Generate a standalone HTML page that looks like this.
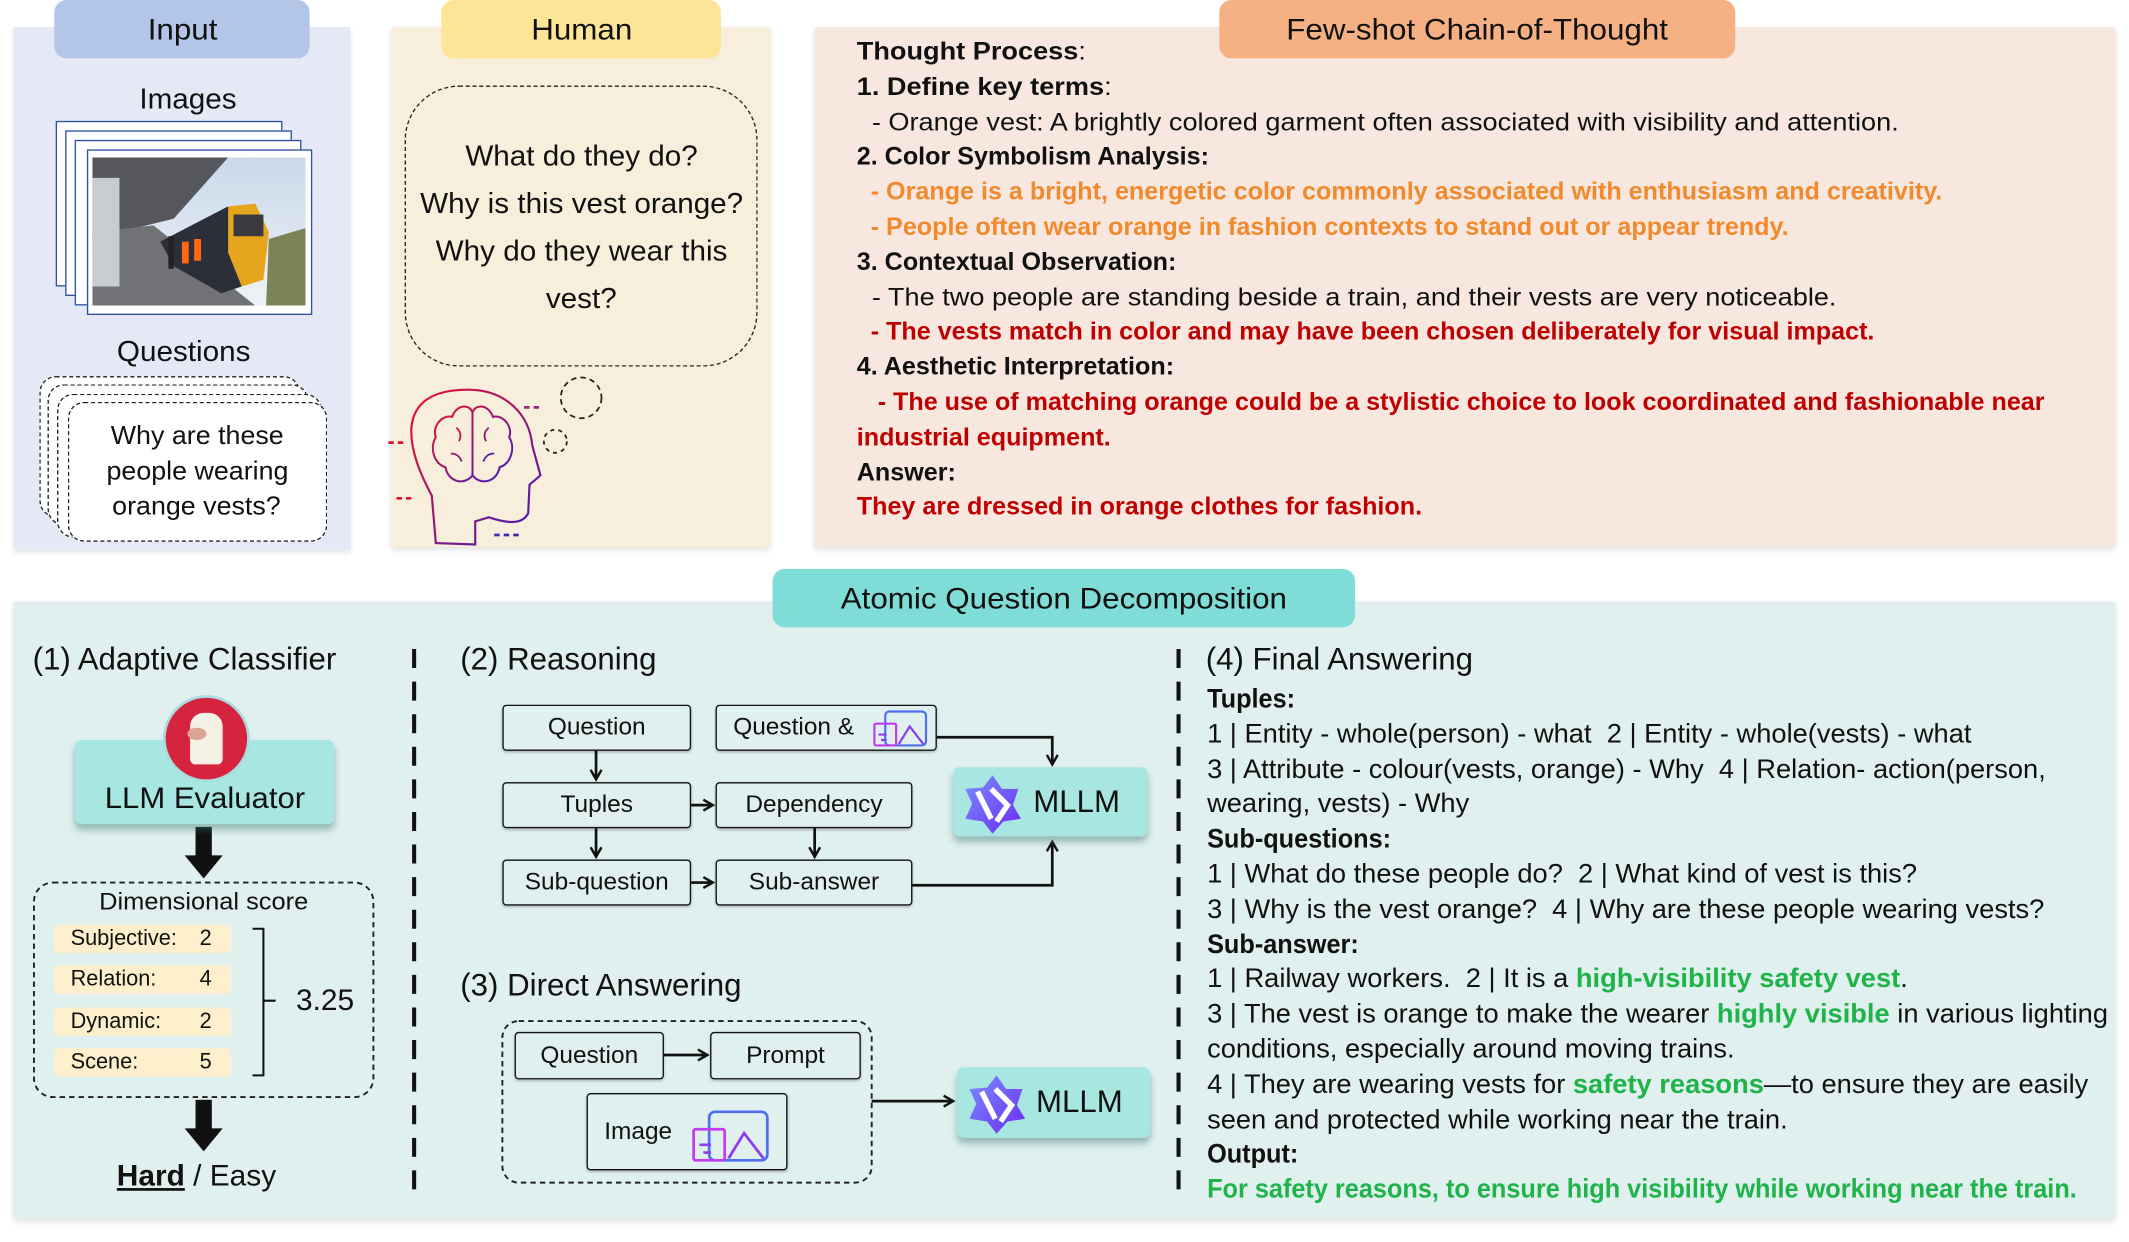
<!DOCTYPE html>
<html><head><meta charset="utf-8">
<style>
html,body{margin:0;padding:0;background:#fff;width:2129px;height:1242px;overflow:hidden}
#w{position:absolute;left:0;top:0;width:1568px;height:915px;transform:scale(1.35778);transform-origin:0 0;font-family:"Liberation Sans",sans-serif;color:#111}
.a{position:absolute}
.t{position:absolute;white-space:nowrap;transform-origin:left center}
.c{position:absolute;text-align:center;white-space:nowrap}
.c span{display:inline-block;transform:scaleX(1.04)}
.hd{position:absolute;border-radius:9px;text-align:center;font-size:22px;line-height:43px}
.hd span{display:inline-block;transform:scaleX(1.05)}
.bx{position:absolute;border:1.6px solid #111;border-radius:3px;box-sizing:border-box;text-align:center;font-size:18px;box-shadow:0 1px 2px rgba(0,0,0,.25)}
.bx span{display:inline-block;transform:scaleX(1.0)}
.lines div{height:25.8px;line-height:25.8px;white-space:nowrap;transform-origin:left center}
.cot div{transform:scaleX(1.08)}
.cot div.b,.cot div.or,.cot div.rd{transform:scaleX(1.0)}
.fa div{transform:scaleX(1.03)}
.fa div.b,.fa div.gr{transform:scaleX(.955)}
.b{font-weight:bold}
.or{color:#f08a2c;font-weight:bold}
.rd{color:#c00000;font-weight:bold}
.gr{color:#1fb34a;font-weight:bold}
</style></head><body>
<div id="w">
<div class="a" style="left:10px;top:20px;width:248px;height:385px;background:#e5e9f6;box-shadow:0 2px 4px rgba(0,0,0,.12)"></div>
<div class="a" style="left:288px;top:20px;width:280px;height:383px;background:#f7efdc;box-shadow:0 2px 4px rgba(0,0,0,.12)"></div>
<div class="a" style="left:600px;top:20px;width:958px;height:383px;background:#f7e7df;box-shadow:0 2px 4px rgba(0,0,0,.12)"></div>
<div class="a" style="left:10px;top:443px;width:1548px;height:455px;background:#dff0ee;box-shadow:0 2px 4px rgba(0,0,0,.12)"></div>

<div class="hd" style="left:40px;top:0;width:188px;height:43px;background:#b4c6e7"><span>Input</span></div>
<div class="hd" style="left:325px;top:0;width:206px;height:43px;background:#fde598"><span>Human</span></div>
<div class="hd" style="left:898px;top:0;width:380px;height:43px;background:#f5b183"><span>Few-shot Chain-of-Thought</span></div>
<div class="hd" style="left:569px;top:419px;width:429px;height:43px;background:#7fdcd6"><span>Atomic Question Decomposition</span></div>

<!-- Input -->
<div class="c" style="left:60px;width:156px;top:62px;font-size:21px"><span>Images</span></div>
<div class="a" style="left:41px;top:89px;width:165px;height:120px;border:1.5px solid #2f52a0;background:#fff"></div>
<div class="a" style="left:48px;top:96px;width:165px;height:120px;border:1.5px solid #2f52a0;background:#fff"></div>
<div class="a" style="left:55px;top:103px;width:165px;height:120px;border:1.5px solid #2f52a0;background:#fff"></div>
<div class="a" style="left:64px;top:110px;width:164px;height:120px;border:1.5px solid #2f52a0;background:#fff"></div>
<svg class="a" style="left:68px;top:116px" width="157" height="109" viewBox="0 0 157 109">
<defs><linearGradient id="sky" x1="0" y1="0" x2="0" y2="1"><stop offset="0" stop-color="#c9d9ea"/><stop offset="1" stop-color="#eef2f6"/></linearGradient></defs>
<rect width="157" height="109" fill="url(#sky)"/>
<polygon points="0,0 100,0 60,45 0,60" fill="#55575c"/>
<polygon points="0,55 45,50 120,109 0,109" fill="#707276"/>
<rect x="0" y="15" width="20" height="80" fill="#c8ccd0"/>
<polygon points="50,62 100,36 118,70 110,95 95,100 60,80" fill="#2c2e3a"/>
<polygon points="100,36 120,34 130,55 126,90 110,95 100,70" fill="#e5a51c"/>
<rect x="104" y="42" width="22" height="16" fill="#3a3a40"/>
<polygon points="130,60 157,52 157,109 128,109" fill="#7a8456"/>
<rect x="75" y="60" width="5" height="16" fill="#ff6a10"/><rect x="66" y="62" width="5" height="16" fill="#ff6a10"/>
<rect x="56" y="58" width="4" height="24" fill="#222"/>
</svg>
<div class="c" style="left:60px;width:150px;top:248px;font-size:21px"><span>Questions</span></div>
<div class="a" style="left:29px;top:277px;width:190px;height:102px;border:1.5px dashed #222;border-radius:12px;background:#fff"></div>
<div class="a" style="left:35px;top:283px;width:190px;height:102px;border:1.5px dashed #222;border-radius:12px;background:#fff"></div>
<div class="a" style="left:42px;top:290px;width:193px;height:104px;border:1.5px dashed #222;border-radius:12px;background:#fff"></div>
<div class="a" style="left:50px;top:296px;width:189px;height:101px;border:1.5px dashed #222;border-radius:12px;background:#fff"></div>
<div class="c lines" style="left:50px;width:190px;top:309px;font-size:19px"><div><span>Why are these</span></div><div><span>people wearing</span></div><div><span>orange vests?</span></div></div>

<!-- Human -->
<div class="a" style="left:298px;top:63px;width:258px;height:205px;border:1.5px dashed #222;border-radius:40px"></div>
<div class="c" style="left:290px;width:276px;top:98px;font-size:21px;line-height:35px"><div><span>What do they do?</span></div><div><span>Why is this vest orange?</span></div><div><span>Why do they wear this</span></div><div><span>vest?</span></div></div>
<svg class="a" style="left:280px;top:270px" width="180" height="140" viewBox="280 270 180 140">
<defs><linearGradient id="hg" x1="0" y1="0" x2="1" y2="1"><stop offset="0" stop-color="#f0102a"/><stop offset="1" stop-color="#3a1fc0"/></linearGradient></defs>
<circle cx="428" cy="293" r="15" fill="none" stroke="#222" stroke-width="1.3" stroke-dasharray="4 3"/>
<circle cx="409" cy="325" r="8.5" fill="none" stroke="#222" stroke-width="1.3" stroke-dasharray="3 3"/>
<path d="M321 400 L318 365 C310 350 302 332 303 315 C305 292 325 287 345 287 C372 287 390 305 392 328 L398 350 C395 353 392 355 390 357 L389 378 C385 386 375 386 360 381 L350 384 L350 401 Z" fill="none" stroke="url(#hg)" stroke-width="1.6"/>
<path d="M333 307 C325 305 318 315 321 322 C316 330 320 342 328 344 C330 355 342 358 348 350 C354 358 366 355 368 344 C376 342 380 330 375 322 C378 315 371 305 363 307 C360 298 350 297 348 304 C346 297 336 298 333 307 Z M348 304 L348 350" fill="none" stroke="url(#hg)" stroke-width="1.5"/>
<path d="M336 315 q5 4 2 10 M360 315 q-5 4 -2 10 M332 334 q6 0 8 6 M364 334 q-6 0 -8 6" fill="none" stroke="url(#hg)" stroke-width="1.3"/>
<path d="M286 326 h14 M292 367 h14" stroke="#e0102a" stroke-width="2" stroke-dasharray="4 3"/>
<path d="M386 300 h12" stroke="#a0207a" stroke-width="2" stroke-dasharray="4 3"/>
<path d="M364 394 h20" stroke="#3a2cb0" stroke-width="2" stroke-dasharray="4 3"/>
</svg>

<!-- CoT -->
<div class="t lines cot" style="left:631px;top:25px;font-size:18.5px">
<div><span class="b">Thought Process</span>:</div>
<div><span class="b">1. Define key terms</span>:</div>
<div>&nbsp; - Orange vest: A brightly colored garment often associated with visibility and attention.</div>
<div class="b">2. Color Symbolism Analysis:</div>
<div class="or">&nbsp; - Orange is a bright, energetic color commonly associated with enthusiasm and creativity.</div>
<div class="or">&nbsp; - People often wear orange in fashion contexts to stand out or appear trendy.</div>
<div class="b">3. Contextual Observation:</div>
<div>&nbsp; - The two people are standing beside a train, and their vests are very noticeable.</div>
<div class="rd">&nbsp; - The vests match in color and may have been chosen deliberately for visual impact.</div>
<div class="b">4. Aesthetic Interpretation:</div>
<div class="rd">&nbsp;&nbsp; - The use of matching orange could be a stylistic choice to look coordinated and fashionable near</div>
<div class="rd">industrial equipment.</div>
<div class="b">Answer:</div>
<div class="rd">They are dressed in orange clothes for fashion.</div>
</div>

<svg class="a" style="left:0;top:0" width="1568" height="915">
<defs><marker id="ar" markerWidth="10" markerHeight="10" refX="8" refY="5" orient="auto" markerUnits="userSpaceOnUse"><path d="M1 1 L8 5 L1 9" fill="none" stroke="#111" stroke-width="1.8"/></marker>
<linearGradient id="mg" x1="0" y1="0" x2="1" y2="1"><stop offset="0" stop-color="#7b8cff"/><stop offset="1" stop-color="#6a2cf0"/></linearGradient></defs>
<line x1="305" y1="478" x2="305" y2="880" stroke="#111" stroke-width="3" stroke-dasharray="14 10"/>
<line x1="868" y1="478" x2="868" y2="880" stroke="#111" stroke-width="3" stroke-dasharray="14 10"/>
<rect x="144" y="609" width="12" height="22" fill="#111"/><polygon points="136,630 164,630 150,647" fill="#111"/>
<rect x="144" y="810" width="12" height="22" fill="#111"/><polygon points="136,831 164,831 150,848" fill="#111"/>
<rect x="25" y="650" width="250" height="158" rx="14" fill="none" stroke="#222" stroke-width="1.4" stroke-dasharray="4 3"/>
<path d="M186 684 h8 v108 h-8 M194 737 h9" fill="none" stroke="#111" stroke-width="1.5"/>
<g stroke="#111" stroke-width="2" fill="none">
<path d="M439 553 V574" marker-end="url(#ar)"/>
<path d="M439 610 V631" marker-end="url(#ar)"/>
<path d="M600 610 V631" marker-end="url(#ar)"/>
<path d="M509 593 H525" marker-end="url(#ar)"/>
<path d="M509 650 H525" marker-end="url(#ar)"/>
<path d="M690 543 H775 V563" marker-end="url(#ar)"/>
<path d="M672 652 H775 V620" marker-end="url(#ar)"/>
<path d="M489 777 H521" marker-end="url(#ar)"/>
<path d="M642 811 H702" marker-end="url(#ar)"/>
</g>
<rect x="370" y="752" width="272" height="119" rx="12" fill="none" stroke="#222" stroke-width="1.4" stroke-dasharray="4 3"/>
</svg>

<!-- LLM evaluator -->
<div class="a" style="left:55px;top:545px;width:191px;height:62px;background:#a8e6e1;border-radius:5px;box-shadow:0 4px 5px rgba(60,120,115,.45)"></div>
<div class="a" style="left:122px;top:514px;width:60px;height:60px;border-radius:50%;background:#d6243f;box-shadow:0 0 0 2px #a9dbe0"></div>
<div class="a" style="left:140px;top:525px;width:24px;height:38px;border-radius:10px 10px 4px 4px;background:#f5f0e6"></div>
<div class="a" style="left:138px;top:536px;width:14px;height:9px;border-radius:50%;background:#d9a594"></div>
<div class="c" style="left:55px;width:191px;top:575px;font-size:22px"><span>LLM Evaluator</span></div>
<div class="c" style="left:25px;width:250px;top:654px;font-size:18px"><span>Dimensional score</span></div>
<div class="a" style="left:40px;top:681px;width:130px;height:21px;background:#fdefcc;border-radius:3px"></div>
<div class="a" style="left:40px;top:711px;width:130px;height:21px;background:#fdefcc;border-radius:3px"></div>
<div class="a" style="left:40px;top:742px;width:130px;height:21px;background:#fdefcc;border-radius:3px"></div>
<div class="a" style="left:40px;top:772px;width:130px;height:21px;background:#fdefcc;border-radius:3px"></div>
<div class="t" style="left:52px;top:681px;font-size:16px;line-height:21px">Subjective:</div><div class="t" style="left:147px;top:681px;font-size:16px;line-height:21px">2</div>
<div class="t" style="left:52px;top:711px;font-size:16px;line-height:21px">Relation:</div><div class="t" style="left:147px;top:711px;font-size:16px;line-height:21px">4</div>
<div class="t" style="left:52px;top:742px;font-size:16px;line-height:21px">Dynamic:</div><div class="t" style="left:147px;top:742px;font-size:16px;line-height:21px">2</div>
<div class="t" style="left:52px;top:772px;font-size:16px;line-height:21px">Scene:</div><div class="t" style="left:147px;top:772px;font-size:16px;line-height:21px">5</div>
<div class="t" style="left:218px;top:724px;font-size:22px;line-height:26px">3.25</div>
<div class="t" style="left:86px;top:853px;font-size:22px;line-height:26px"><span style="font-weight:bold;text-decoration:underline">Hard</span> / Easy</div>

<div class="t" style="left:24px;top:472px;font-size:23px;line-height:26px">(1) Adaptive Classifier</div>
<div class="t" style="left:339px;top:472px;font-size:23px;line-height:26px">(2) Reasoning</div>
<div class="t" style="left:339px;top:712px;font-size:23px;line-height:26px">(3) Direct Answering</div>
<div class="t" style="left:888px;top:472px;font-size:23px;line-height:26px">(4) Final Answering</div>

<div class="bx" style="left:370px;top:519px;width:139px;height:34px;line-height:31px"><span>Question</span></div>
<div class="bx" style="left:527px;top:519px;width:163px;height:34px;line-height:31px;text-align:left;padding-left:12px"><span style="transform-origin:left">Question &amp;</span></div>
<svg class="a" style="left:642px;top:521px" width="42" height="30" viewBox="0 0 42 30"><g fill="none" stroke="#8a3cf0" stroke-width="1.6"><rect x="10" y="3" width="30" height="25" rx="3" stroke="#4d6ff0"/><rect x="2" y="12" width="16" height="16" rx="1" stroke="#c03cf0"/><path d="M20 27 L28 14 L38 27"/><path d="M5 20 h6 M7 24 h4"/></g></svg>
<div class="bx" style="left:370px;top:576px;width:139px;height:34px;line-height:31px"><span>Tuples</span></div>
<div class="bx" style="left:527px;top:576px;width:145px;height:34px;line-height:31px"><span>Dependency</span></div>
<div class="bx" style="left:370px;top:633px;width:139px;height:34px;line-height:31px"><span>Sub-question</span></div>
<div class="bx" style="left:527px;top:633px;width:145px;height:34px;line-height:31px"><span>Sub-answer</span></div>
<div class="bx" style="left:379px;top:760px;width:110px;height:35px;line-height:32px"><span>Question</span></div>
<div class="bx" style="left:523px;top:760px;width:111px;height:35px;line-height:32px"><span>Prompt</span></div>
<div class="bx" style="left:432px;top:805px;width:148px;height:57px;line-height:54px;text-align:left;padding-left:12px"><span style="transform-origin:left">Image</span></div>
<svg class="a" style="left:508px;top:814px" width="60" height="44" viewBox="0 0 42 30"><g fill="none" stroke="#8a3cf0" stroke-width="1.4"><rect x="10" y="3" width="30" height="25" rx="3" stroke="#4d6ff0"/><rect x="2" y="12" width="16" height="16" rx="1" stroke="#c03cf0"/><path d="M20 27 L28 14 L38 27"/><path d="M5 20 h6 M7 24 h4"/></g></svg>

<div class="a" style="left:702px;top:565px;width:143px;height:51px;background:#a8e6e1;border-radius:5px;box-shadow:0 4px 5px rgba(60,120,115,.45)"></div>
<div class="a" style="left:705px;top:786px;width:142px;height:52px;background:#a8e6e1;border-radius:5px;box-shadow:0 4px 5px rgba(60,120,115,.45)"></div>
<svg class="a" style="left:708px;top:569px" width="46" height="46" viewBox="0 0 46 46"><polygon points="23,2 30,12 42,12 38,24 44,34 31,36 23,45 16,36 3,34 8,23 3,12 16,11" fill="url(#mg)"/><path d="M12 14 L22 34 M22 12 L34 24 L26 36" stroke="#fff" stroke-width="4" fill="none"/></svg>
<svg class="a" style="left:711px;top:790px" width="46" height="46" viewBox="0 0 46 46"><polygon points="23,2 30,12 42,12 38,24 44,34 31,36 23,45 16,36 3,34 8,23 3,12 16,11" fill="url(#mg)"/><path d="M12 14 L22 34 M22 12 L34 24 L26 36" stroke="#fff" stroke-width="4" fill="none"/></svg>
<div class="t" style="left:761px;top:576px;font-size:23px;line-height:28px">MLLM</div>
<div class="t" style="left:763px;top:797px;font-size:23px;line-height:28px">MLLM</div>

<div class="t lines fa" style="left:889px;top:503px;font-size:19.5px">
<div class="b">Tuples:</div>
<div>1 | Entity - whole(person) - what&nbsp; 2 | Entity - whole(vests) - what</div>
<div>3 | Attribute - colour(vests, orange) - Why&nbsp; 4 | Relation- action(person,</div>
<div>wearing, vests) - Why</div>
<div class="b">Sub-questions:</div>
<div>1 | What do these people do?&nbsp; 2 | What kind of vest is this?</div>
<div>3 | Why is the vest orange?&nbsp; 4 | Why are these people wearing vests?</div>
<div class="b">Sub-answer:</div>
<div>1 | Railway workers.&nbsp; 2 | It is a <span class="gr">high-visibility safety vest</span>.</div>
<div>3 | The vest is orange to make the wearer <span class="gr">highly visible</span> in various lighting</div>
<div>conditions, especially around moving trains.</div>
<div>4 | They are wearing vests for <span class="gr">safety reasons</span>—to ensure they are easily</div>
<div>seen and protected while working near the train.</div>
<div class="b">Output:</div>
<div class="gr">For safety reasons, to ensure high visibility while working near the train.</div>
</div>
</div>
</body></html>
